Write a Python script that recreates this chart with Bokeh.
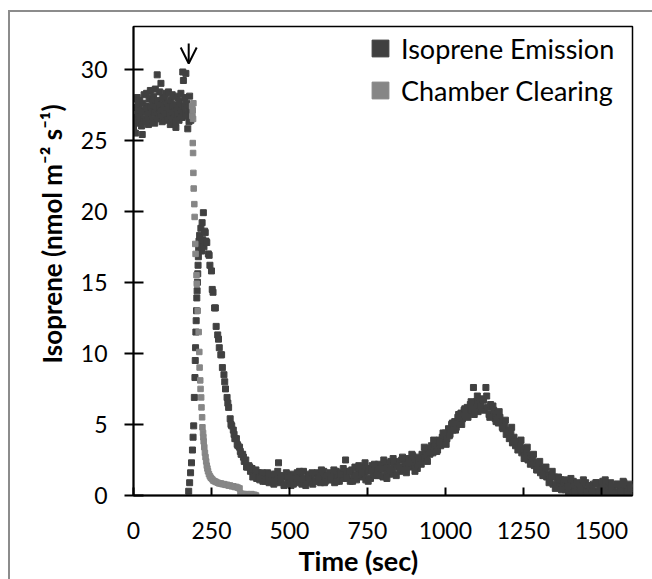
import numpy as np
from bokeh.plotting import figure
from bokeh.models import (Range1d, FixedTicker, Arrow, OpenHead, Title,
                          Legend, LegendItem)
from bokeh.layouts import column
from bokeh.embed import file_html
from bokeh.resources import INLINE

# ---------------- data ----------------
# Isoprene emission: steady state before the chamber is opened (every 2 s)
plateau_t = list(range(0, 188, 2))
plateau_y = [25.8, 27.9, 26.6, 25.5, 27.3, 26.2, 28.0, 26.9, 27.5, 26.4,
             27.8, 26.7, 27.1, 26.0, 25.4, 27.6, 26.5, 28.2, 27.0, 26.3,
             27.4, 28.3, 26.8, 27.2, 26.1, 27.9, 26.6, 28.5, 27.3, 26.9,
             27.7, 26.4, 28.1, 27.0, 26.2, 28.6, 27.4, 26.7, 29.6, 27.8,
             26.5, 27.2, 28.4, 26.9, 29.0, 27.5, 26.3, 28.0, 27.1, 26.6,
             27.9, 26.8, 28.3, 27.3, 26.4, 27.6, 28.4, 26.9, 27.2, 26.1,
             27.8, 26.7, 28.2, 27.4, 26.5, 27.0, 28.1, 26.2, 25.9, 27.5,
             26.8, 28.0, 27.3, 26.4, 27.7, 26.9, 28.3, 27.1, 26.6, 29.8,
             29.2, 27.4, 28.0, 26.9, 29.7, 27.6, 26.7, 25.8, 27.3, 26.3,
             28.1, 27.0, 26.4, 27.2]

# Isoprene emission: fast rise after the arrow
rise_t = [177, 180, 183, 186, 189, 191, 193, 195, 197, 198,
          199, 200, 201, 202, 203, 204, 205, 206, 207, 208,
          209, 210, 212, 214, 216, 218, 220, 222, 224, 226, 228]
rise_y = [0.3, 0.9, 1.6, 2.3, 3.2, 4.1, 4.9, 6.9, 8.3, 9.5,
          10.4, 11.5, 12.3, 13.0, 13.9, 14.4, 15.0, 15.6, 16.2, 16.8,
          17.4, 17.9, 18.3, 17.6, 18.8, 17.2, 19.2, 18.0, 19.9, 17.5, 18.6]

# Isoprene emission: decay, second burst and tail (every 5 s, 230..1600)
decay_t = list(range(230, 1605, 5))
decay_y = [18.5, 17.8, 17.0, 16.2, 15.8, 14.3, 13.2, 11.9, 11.3, 10.4,
           9.9, 9.0, 8.5, 7.5, 6.9, 6.2, 5.4, 4.9, 4.6, 4.0,
           4.0, 3.5, 3.4, 2.9, 2.9, 2.4, 2.5, 2.0, 2.1, 1.7,
           1.9, 1.4, 1.7, 1.2, 1.6, 1.1, 1.5, 1.0, 1.5, 1.1,
           1.6, 0.9, 1.4, 1.2, 0.8, 1.5, 1.1, 2.3, 0.9, 1.3,
           1.4, 0.8, 1.6, 1.0, 1.3, 0.7, 1.5, 1.1, 0.9, 1.6,
           1.0, 1.4, 0.8, 1.7, 1.2, 0.9, 1.5, 1.1, 1.3, 0.8,
           1.5, 1.0, 1.6, 1.2, 0.9, 1.4, 1.7, 1.0, 1.3, 1.1,
           1.6, 1.1, 1.4, 0.9, 1.7, 1.3, 1.0, 1.6, 1.2, 1.5,
           2.5, 1.2, 1.7, 1.0, 1.8, 1.4, 2.0, 1.1, 1.6, 1.9,
           1.3, 2.0, 1.5, 1.1, 1.9, 1.7, 1.2, 2.1, 1.5, 1.8,
           1.4, 2.2, 1.6, 1.9, 1.3, 2.3, 1.7, 2.0, 1.5, 2.4,
           1.8, 2.2, 1.5, 2.4, 2.0, 1.7, 2.5, 1.9, 2.2, 1.6,
           2.6, 2.0, 2.4, 2.8, 2.1, 2.5, 1.9, 2.7, 2.3, 2.9,
           2.6, 3.1, 2.7, 3.3, 2.9, 3.5, 3.0, 3.4, 3.7, 3.2,
           3.9, 3.5, 4.1, 3.8, 4.4, 4.0, 4.7, 4.3, 5.0, 4.6,
           5.2, 4.8, 5.5, 5.1, 5.8, 5.4, 6.0, 5.6, 6.2, 5.8,
           6.4, 6.0, 7.6, 6.2, 6.6, 5.9, 6.5, 6.1, 6.8, 6.0,
           7.6, 6.2, 5.7, 6.4, 5.6, 6.0, 5.4, 5.8, 5.1, 5.5,
           5.2, 4.7, 4.9, 4.3, 4.6, 4.0, 4.4, 3.7, 4.1, 3.5,
           3.8, 3.3, 3.5, 3.0, 3.3, 2.8, 3.0, 2.5, 2.8, 2.3,
           2.6, 2.1, 2.3, 1.8, 2.1, 1.6, 1.9, 1.4, 1.7, 1.3,
           1.5, 1.1, 1.4, 0.8, 1.3, 0.7, 1.2, 0.9, 1.1, 0.6,
           1.0, 0.4, 0.9, 0.2, 0.8, 0.5, 1.0, 0.3, 0.7, 0.1,
           0.8, 0.2, 0.6, 0.1, 0.9, 0.3, 0.7, 0.0, 0.5, 0.8,
           0.3, 0.9, 0.1, 0.6, 0.4, 1.0, 0.2, 0.7, 0.1, 0.6,
           0.9, 0.3, 0.5, 0.1, 0.8, 0.2, 0.6, 0.4, 1.0, 0.2,
           0.7, 0.3, 0.8, 0.1, 0.6]

# Isoprene emission: in-between samples (every 10 s, 232.5..1592.5)
decay2_t = [232.5 + 10 * i for i in range(137)]
decay2_y = [17.9, 16.9, 14.5, 13.2, 11.0, 9.9, 8.0, 6.5, 5.0, 4.3,
            3.6, 3.1, 2.7, 2.0, 2.0, 1.3, 1.8, 1.2, 1.6, 1.0,
            1.1, 1.5, 1.0, 1.7, 1.2, 0.7, 1.4, 1.3, 0.8, 1.2,
            1.7, 1.1, 0.7, 1.3, 1.6, 1.0, 1.2, 1.8, 0.9, 1.4,
            1.2, 1.8, 1.0, 1.5, 1.9, 1.3, 1.7, 1.0, 1.4, 2.1,
            1.6, 2.3, 1.0, 1.8, 2.2, 1.4, 1.9, 2.5, 1.2, 1.8,
            2.6, 1.4, 2.0, 2.7, 1.8, 2.3, 2.9, 1.7, 2.5, 2.2,
            3.4, 2.4, 3.0, 3.9, 3.1, 3.7, 4.4, 3.6, 4.2, 5.1,
            4.6, 5.7, 5.0, 6.1, 5.5, 6.6, 5.7, 7.0, 6.3, 6.7,
            7.0, 5.5, 6.3, 5.2, 5.9, 4.8, 5.3, 4.5, 4.8, 3.8,
            3.2, 3.9, 2.6, 3.4, 2.2, 2.9, 1.8, 2.4, 1.4, 2.0,
            0.9, 1.7, 0.5, 1.3, 0.4, 1.1, 0.6, 1.2, 0.2, 0.9,
            0.4, 1.1, 0.0, 0.7, 0.3, 0.9, 0.2, 0.6, 1.1, 0.3,
            0.6, 0.0, 0.8, 0.3, 0.9, 0.1, 0.5]

# Chamber clearing
clear_t = [188, 189, 190, 191, 192, 190, 191, 192, 193, 195,
           196, 198, 199, 202, 203, 206, 209, 211, 212, 214,
           215, 217, 218, 220, 221, 223, 224, 225, 227, 229,
           231, 233, 235, 237, 239, 242, 245, 248, 252, 256,
           260, 265, 270, 275, 280, 285, 290, 295, 300, 305,
           310, 315, 320, 325, 330, 335, 340, 343, 348, 353,
           358, 363, 368, 373, 378, 383, 388, 393]
clear_y = [27.4, 26.7, 27.1, 26.5, 27.6, 24.8, 24.1, 22.7, 21.6, 20.5,
           19.6, 17.7, 17.0, 15.5, 14.9, 13.0, 11.5, 10.1, 9.0, 8.1,
           7.5, 6.9, 6.2, 5.5, 4.8, 4.4, 4.1, 3.8, 3.4, 3.0,
           2.7, 2.4, 2.1, 1.9, 1.7, 1.5, 1.35, 1.25, 1.15, 1.05,
           1.0, 0.95, 0.9, 0.85, 0.85, 0.8, 0.8, 0.75, 0.75, 0.7,
           0.7, 0.65, 0.65, 0.6, 0.6, 0.55, 0.5, 0.15, 0.1, 0.1,
           0.05, 0.1, 0.05, 0.05, 0.1, 0.05, 0.05, 0.0]

x_ticks = [0, 250, 500, 750, 1000, 1250, 1500]
y_ticks = [0, 5, 10, 15, 20, 25, 30]
series_names = ["Isoprene Emission", "Chamber Clearing"]
arrow_time = 177

emis_t = plateau_t + rise_t + decay_t + decay2_t
emis_y = plateau_y + rise_y + decay_y + decay2_y

# ---------------- figure ----------------
FONT = "Lato"
p = figure(width=642, height=567, x_range=Range1d(0, 1600), y_range=Range1d(0, 33),
           output_backend="svg", toolbar_location=None,
           min_border_left=123, min_border_top=14, min_border_right=20,
           min_border_bottom=84)
p.xgrid.visible = False
p.ygrid.visible = False
p.outline_line_color = "black"
p.outline_line_width = 1.5
p.background_fill_color = "white"
p.border_fill_color = "white"

for ax in (p.xaxis[0], p.yaxis[0]):
    ax.axis_line_color = "black"
    ax.axis_line_width = 2
    ax.major_tick_line_color = "black"
    ax.major_tick_line_width = 2
    ax.minor_tick_line_color = None
    ax.major_label_text_font = FONT
    ax.major_label_text_font_size = "23px"
    ax.major_label_text_color = "black"

p.xaxis[0].ticker = FixedTicker(ticks=x_ticks)
p.yaxis[0].ticker = FixedTicker(ticks=y_ticks)
p.xaxis[0].major_tick_in = 8
p.xaxis[0].major_tick_out = 0
p.xaxis[0].major_label_standoff = 26
p.yaxis[0].major_tick_in = 10
p.yaxis[0].major_tick_out = 9
p.yaxis[0].major_label_standoff = 17

r1 = p.scatter(emis_t, emis_y, marker="square", size=6, color="#404040")
r2 = p.scatter(clear_t, clear_y, marker="square", size=5.5, color="#868686")

legend = Legend(items=[LegendItem(label=series_names[0], renderers=[r1]),
                       LegendItem(label=series_names[1], renderers=[r2])],
                location=(226, 384), glyph_width=42, glyph_height=42,
                spacing=0, padding=0, margin=0, label_standoff=0,
                border_line_color=None, background_fill_alpha=0,
                label_text_font=FONT, label_text_font_size="27px",
                label_text_color="black")
p.add_layout(legend)

p.add_layout(Arrow(end=OpenHead(size=16, line_width=2, line_color="black"),
                   x_start=arrow_time, y_start=31.8, x_end=arrow_time, y_end=30.4,
                   line_width=2, line_color="black"))

p.add_layout(Title(text="Time (sec)", align="left", offset=165, standoff=0,
                   text_font=FONT, text_font_style="bold", text_font_size="27px",
                   text_color="black"), "below")
p.add_layout(Title(text="Isoprene (nmol m\u207b\u00b2 s\u207b\u00b9)", align="left",
                   offset=132, standoff=19, text_font=FONT, text_font_style="bold",
                   text_font_size="26px", text_color="black"), "left")

layout = column(p, styles={"margin-left": "8px", "margin-top": "10px",
                           "border-left": "2px solid #8c8c8c",
                           "border-top": "2px solid #8c8c8c"})

open("out.html", "w").write(file_html(layout, INLINE))
